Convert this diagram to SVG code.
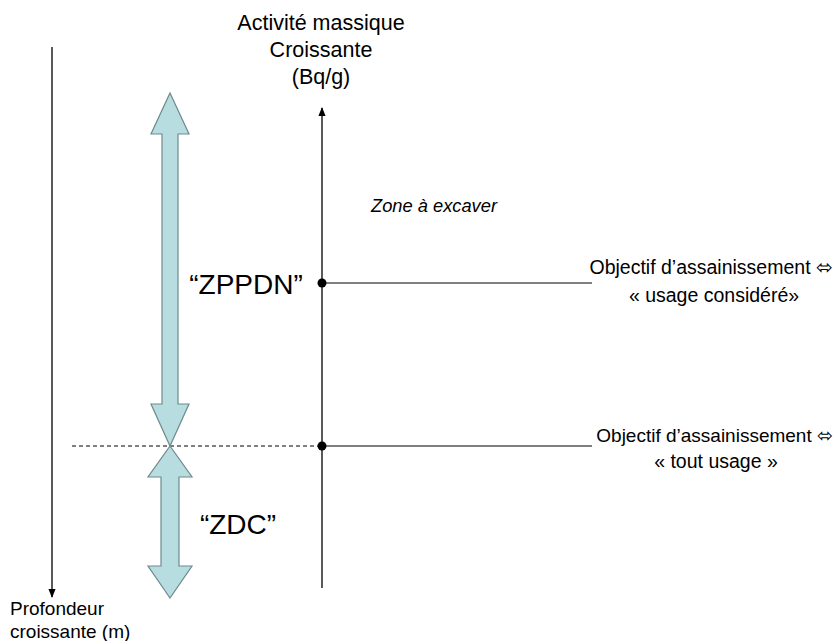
<svg xmlns="http://www.w3.org/2000/svg" width="837" height="641" viewBox="0 0 837 641">
<style>
text{font-family:"Liberation Sans",Arial,sans-serif;fill:#000}
.t22{font-size:21.5px}
.t19{font-size:19.5px}
.t18{font-size:19px}
.big{font-size:28px}
.ax{stroke:#000;stroke-width:1.3;fill:none}
.blk{fill:none;stroke:#000;stroke-width:1}
.fat{fill:#B7DDE1;stroke:#6E8A8C;stroke-width:1.2}
</style>
<defs>
<marker id="ah" viewBox="0 0 10 10" refX="9" refY="5" markerWidth="7" markerHeight="7" orient="auto"><path d="M0,1 L10,5 L0,9 z" fill="#000"/></marker>
</defs>
<rect width="837" height="641" fill="#fff"/>
<g id="connectors">
<line class="ax" x1="52" y1="47" x2="52" y2="597" marker-end="url(#ah)"/>
<line class="ax" x1="322" y1="588" x2="322" y2="108" marker-end="url(#ah)"/>
<line class="blk" x1="322" y1="283" x2="592" y2="283"/>
<line class="blk" x1="322" y1="446" x2="592" y2="446"/>
<line x1="72" y1="446" x2="322" y2="446" stroke="#000" stroke-width="1" stroke-dasharray="4,3"/>
<circle cx="322" cy="283" r="4.5" fill="#000"/>
<circle cx="322" cy="446" r="4.5" fill="#000"/>
</g>
<g id="zppdn-arrow">
<path class="fat" d="M170,93 L189,134 L178,134 L178,404 L189,404 L170,446 L151,404 L162,404 L162,134 L151,134 Z"/>
</g>
<g id="zdc-arrow">
<path class="fat" d="M170,446 L192,477 L179,477 L179,566 L192,566 L170,598 L148,566 L161,566 L161,477 L148,477 Z"/>
</g>
<g id="y-axis-label">
<text class="t22" x="321" y="30" text-anchor="middle">Activité massique</text>
<text class="t22" x="321" y="57" text-anchor="middle">Croissante</text>
<text class="t22" x="321" y="84" text-anchor="middle">(Bq/g)</text>
</g>
<g id="x-axis-label">
<text class="t18" x="10" y="615">Profondeur</text>
<text class="t18" x="10" y="638">croissante (m)</text>
</g>
<g id="zone">
<text x="371" y="212" font-size="18.3px" font-style="italic">Zone à excaver</text>
</g>
<g id="zppdn">
<text class="big" x="246" y="294" text-anchor="middle">“ZPPDN”</text>
</g>
<g id="zdc">
<text class="big" x="238" y="534" text-anchor="middle">“ZDC”</text>
</g>
<g id="obj1">
<text class="t19" x="833" y="274" text-anchor="end">Objectif d’assainissement ⬄</text>
<text class="t19" x="714" y="302" text-anchor="middle">« usage considéré»</text>
</g>
<g id="obj2">
<text x="833" y="442" font-size="19px" text-anchor="end">Objectif d’assainissement ⬄</text>
<text class="t19" x="716" y="468" text-anchor="middle">« tout usage »</text>
</g>
</svg>
